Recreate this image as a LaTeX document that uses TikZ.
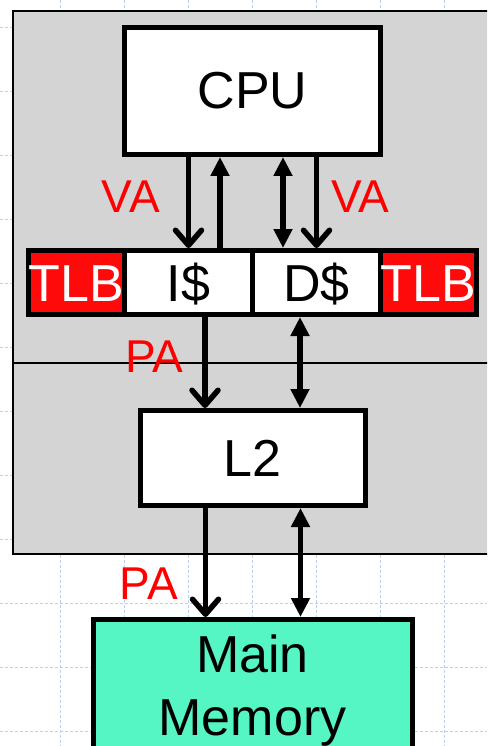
\documentclass[tikz,border=0pt]{standalone}
\usepackage{fontspec}
\setmainfont{Liberation Sans}
\usetikzlibrary{positioning, arrows.meta, calc}

\definecolor{chipgray}{RGB}{212,212,212}
\definecolor{tlbred}{RGB}{255,10,10}
\definecolor{vared}{RGB}{255,0,0}
\definecolor{memgreen}{RGB}{86,245,196}
\definecolor{gridblue}{RGB}{190,205,245}

\begin{document}
\begin{tikzpicture}[
    x=1pt, y=1pt,
    box/.style={rectangle, draw, line width=5pt, fill=white, inner sep=0pt, outer sep=0pt, font=\fontsize{52}{63}\selectfont},
    cell/.style={box, minimum height=64pt, text height=37pt, text depth=0pt},
    tlb/.style={cell, fill=tlbred, text=white, minimum width=96pt},
    cache/.style={cell, minimum width=128pt},
    lbl/.style={text=vared, font=\fontsize{46}{55}\selectfont, inner sep=0pt},
    fwd/.style={-{Straight Barb[length=15pt, width=26pt, round]}, line width=5.5pt, shorten >=2.5pt, shorten <=2.5pt},
    back/.style={-{Triangle[length=19pt, width=18pt]}, line width=5.5pt, shorten >=2.5pt, shorten <=2.5pt},
    both/.style={{Triangle[length=19pt, width=18pt]}-{Triangle[length=19pt, width=18pt]}, line width=5.5pt, shorten >=2.5pt, shorten <=2.5pt},
    gridline/.style={gridblue, line width=0.8pt, dash pattern=on 3pt off 2pt},
]

    \clip (0,0) rectangle (487,-746);

%% BACKGROUND
    % slide grid
    \foreach \gx in {60,124,...,444} \draw[gridline] (\gx,0) -- (\gx,-746);
    \foreach \gy in {27,91,...,731} \draw[gridline] (0,-\gy) -- (487,-\gy);

    % chip
    \draw[fill=chipgray, line width=2pt] (13,-11) rectangle (500,-554);
    \draw[line width=2pt] (13,-363) -- (500,-363);

%% NODES
    % cpu
    \node[box, minimum width=256pt, minimum height=127pt] (cpu) at (252.5,-91) {CPU};

    % caches and tlbs
    \node[cache, below=96pt of cpu, xshift=-64pt] (icache) {I\$};
    \node[cache, right=0pt of icache] (dcache) {D\$};
    \node[tlb, left=0pt of icache] (itlb) {TLB};
    \node[tlb, right=0pt of dcache] (dtlb) {TLB};

    % l2
    \node[box, minimum width=225pt, minimum height=95pt, below=96pt of icache.south east] (l2) {L2};

    % memory
    \node[box, fill=memgreen, minimum width=319pt, align=center, inner ysep=15pt, below=114pt of l2] (mem) {Main\\Memory};

%% CONNECTIONS
    % cpu <-> caches
    \draw[fwd] (cpu.south -| icache.north) -- node[lbl, left, xshift=-26pt, yshift=6pt] {VA} (icache.north);
    \draw[back] ([xshift=31.5pt]icache.north) -- ([xshift=31.5pt]icache.north |- cpu.south);
    \draw[both] ([xshift=-33.5pt]dcache.north) -- ([xshift=-33.5pt]dcache.north |- cpu.south);
    \draw[fwd] (cpu.south -| dcache.north) -- node[lbl, right, xshift=12pt, yshift=6pt] {VA} (dcache.north);

    % caches -> l2
    \draw[fwd] ([xshift=16.5pt]icache.south) -- node[lbl, left, xshift=-19pt, yshift=5.5pt] {PA} ([xshift=16.5pt]icache.south |- l2.north);
    \draw[both] ([xshift=-16.5pt]dcache.south) -- ([xshift=-16.5pt]dcache.south |- l2.north);

    % l2 -> memory
    \draw[fwd] ([xshift=-47pt]l2.south) -- node[lbl, left, xshift=-25pt, yshift=-21pt] {PA} ([xshift=-47pt]l2.south |- mem.north);
    \draw[both] ([xshift=48pt]l2.south) -- ([xshift=48pt]l2.south |- mem.north);

\end{tikzpicture}
\end{document}
